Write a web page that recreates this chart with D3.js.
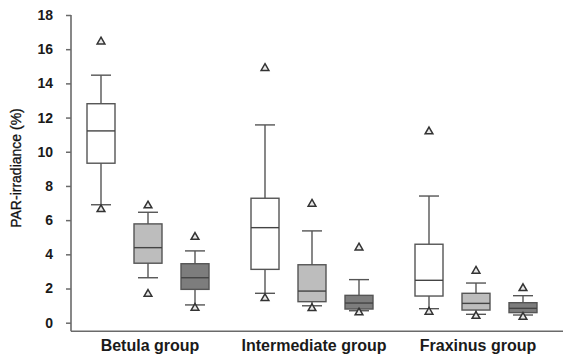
<!DOCTYPE html>
<html>
<head>
<meta charset="utf-8">
<script src="https://cdn.jsdelivr.net/npm/d3@7"></script>
<style>
  body { margin: 0; background: #fff; }
  svg { display: block; font-family: 'Liberation Sans', Arial, sans-serif; }
</style>
</head>
<body>
<div id="chart"></div>
<script>
const groups = ['Betula group', 'Intermediate group', 'Fraxinus group']
const series = ['a', 'b', 'c']
const fills = ['#ffffff', '#bdbdbd', '#7d7d7d']
const yTicks = [0, 2, 4, 6, 8, 10, 12, 14, 16, 18]

// one value per box: Betula a,b,c / Intermediate a,b,c / Fraxinus a,b,c
const whiskerLow = [6.9, 2.63, 1.04, 1.72, 0.99, 0.7, 0.82, 0.49, 0.45]
const q1 = [9.33, 3.48, 1.95, 3.12, 1.23, 0.8, 1.56, 0.74, 0.59]
const median = [11.22, 4.39, 2.63, 5.56, 1.85, 1.15, 2.48, 1.13, 0.84]
const q3 = [12.81, 5.78, 3.45, 7.28, 3.39, 1.6, 4.59, 1.72, 1.17]
const whiskerHigh = [14.48, 6.46, 4.2, 11.57, 5.37, 2.52, 7.41, 2.32, 1.58]
const outlierLow = [6.63, 1.68, 0.86, 1.43, 0.84, 0.59, 0.63, 0.39, 0.33]
const outlierHigh = [16.44, 6.85, 5.01, 14.89, 6.95, 4.39, 11.18, 3.03, 2.01]

const width = 563
const height = 357

const svg = d3
  .select('#chart')
  .append('svg')
  .attr('width', width)
  .attr('height', height)

const yScale = d3.scaleLinear().domain([0, 18]).range([322.7, 15])
const xGroup = d3.scaleBand().domain(groups).range([66, 558])
const xInner = d3.scalePoint().domain(series).range([-47, 47])

const boxW = 28
const capW = 20
const axisColor = '#6a6a6a'
const lineColor = '#555'

const boxes = []
groups.forEach((g, gi) => {
  series.forEach((s, si) => {
    const i = gi * 3 + si
    boxes.push({
      group: g,
      series: s,
      fill: fills[si],
      cx: xGroup(g) + xGroup.bandwidth() / 2 + xInner(s),
      lo: whiskerLow[i],
      q1: q1[i],
      med: median[i],
      q3: q3[i],
      hi: whiskerHigh[i],
      outs: [outlierLow[i], outlierHigh[i]]
    })
  })
})

// y axis
const yAxis = d3.axisLeft(yScale).tickValues(yTicks).tickSize(5).tickSizeOuter(0).tickPadding(13)
const yG = svg.append('g').attr('transform', 'translate(71,0)').call(yAxis)
yG.select('.domain').remove()
yG.selectAll('line').attr('stroke', axisColor).attr('stroke-width', 1.5)
yG.selectAll('text')
  .attr('font-size', 14)
  .attr('font-weight', 'bold')
  .attr('fill', '#1a1a1a')
  .attr('font-family', "'Liberation Sans', Arial, sans-serif")

const baseY = yScale(0) + 8.5
svg.append('line')
  .attr('x1', 71).attr('x2', 71)
  .attr('y1', yScale(18)).attr('y2', baseY)
  .attr('stroke', axisColor).attr('stroke-width', 1.6)
svg.append('line')
  .attr('x1', 71).attr('x2', width)
  .attr('y1', baseY).attr('y2', baseY)
  .attr('stroke', axisColor).attr('stroke-width', 1.6)

// group labels
svg.selectAll('.glabel')
  .data(groups)
  .enter()
  .append('text')
  .attr('class', 'glabel')
  .attr('x', d => xGroup(d) + xGroup.bandwidth() / 2 + 2)
  .attr('y', 351)
  .attr('text-anchor', 'middle')
  .attr('font-size', 16)
  .attr('font-weight', 'bold')
  .attr('fill', '#1a1a1a')
  .text(d => d)

// y label
svg.append('text')
  .attr('transform', 'translate(21,168) rotate(-90)')
  .attr('text-anchor', 'middle')
  .attr('font-size', 14)
  .attr('fill', '#111')
  .attr('stroke', '#111')
  .attr('stroke-width', 0.3)
  .text('PAR-irradiance (%)')

// boxes
const b = svg.selectAll('.box').data(boxes).enter().append('g').attr('class', 'box')

b.append('line')
  .attr('x1', d => d.cx).attr('x2', d => d.cx)
  .attr('y1', d => yScale(d.hi)).attr('y2', d => yScale(d.lo))
  .attr('stroke', lineColor).attr('stroke-width', 1.4)

b.selectAll('.cap')
  .data(d => [d.lo, d.hi].map(v => ({ v, cx: d.cx })))
  .enter()
  .append('line')
  .attr('class', 'cap')
  .attr('x1', d => d.cx - capW / 2).attr('x2', d => d.cx + capW / 2)
  .attr('y1', d => yScale(d.v)).attr('y2', d => yScale(d.v))
  .attr('stroke', lineColor).attr('stroke-width', 1.4)

b.append('rect')
  .attr('x', d => d.cx - boxW / 2)
  .attr('width', boxW)
  .attr('y', d => yScale(d.q3))
  .attr('height', d => yScale(d.q1) - yScale(d.q3))
  .attr('fill', d => d.fill)
  .attr('stroke', lineColor).attr('stroke-width', 1.4)

b.append('line')
  .attr('x1', d => d.cx - boxW / 2).attr('x2', d => d.cx + boxW / 2)
  .attr('y1', d => yScale(d.med)).attr('y2', d => yScale(d.med))
  .attr('stroke', '#444').attr('stroke-width', 1.4)

const tri = d3.symbol().type(d3.symbolTriangle).size(26)
b.selectAll('.out')
  .data(d => d.outs.map(v => ({ v, cx: d.cx })))
  .enter()
  .append('path')
  .attr('class', 'out')
  .attr('d', tri)
  .attr('transform', d => 'translate(' + d.cx + ',' + yScale(d.v) + ')')
  .attr('fill', '#e8e8e8')
  .attr('stroke', '#333').attr('stroke-width', 1.5)
</script>
</body>
</html>
